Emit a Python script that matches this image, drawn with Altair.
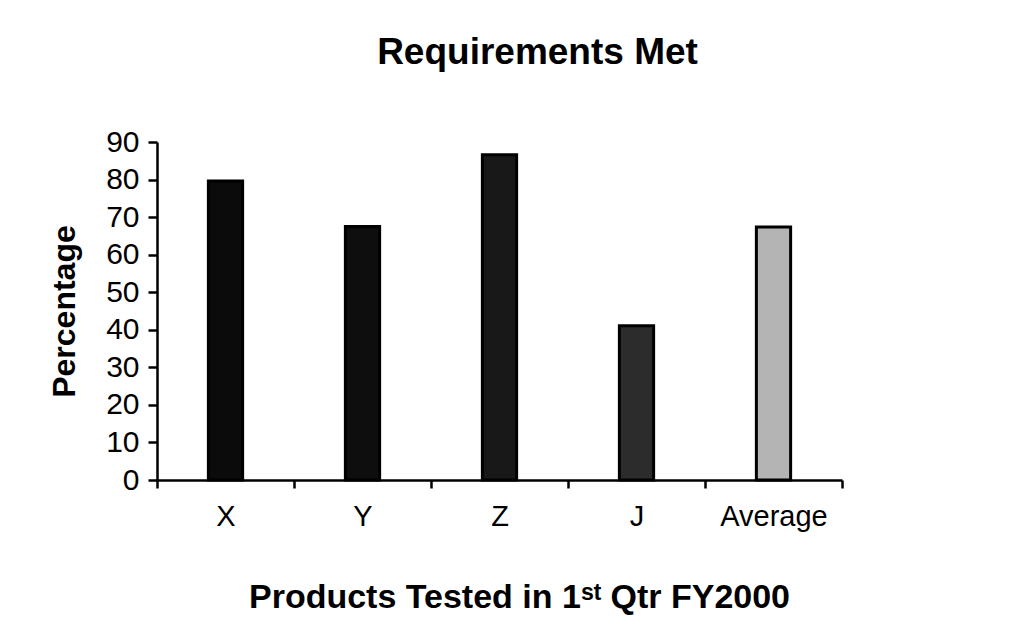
import altair as alt
import pandas as pd

categories = ["X", "Y", "Z", "J", "Average"]
values = [79.6, 67.5, 86.6, 41.1, 67.4]
fills = ["#0b0b0b", "#0e0e0e", "#181818", "#2c2c2c", "#b4b4b4"]

df = pd.DataFrame({"product": categories, "pct": values, "fill": fills})

FONT = "Liberation Sans"

chart = (
    alt.Chart(df)
    .mark_bar(stroke="black", strokeWidth=3, width=alt.RelativeBandSize(0.25))
    .encode(
        x=alt.X(
            "product:N",
            sort=categories,
            scale=alt.Scale(paddingInner=0, paddingOuter=0),
            axis=alt.Axis(
                title="Products Tested in 1ˢᵗ Qtr FY2000",
                labelAngle=0,
                labelFontSize=29,
                labelFont=FONT,
                labelColor="black",
                labelPadding=14,
                tickBand="extent",
                tickSize=8,
                tickWidth=2.5,
                tickColor="black",
                domainColor="black",
                domainWidth=2.5,
                titleFont=FONT,
                titleFontSize=34,
                titleFontWeight="bold",
                titleColor="black",
                titlePadding=49,
                titleX=362,
            ),
        ),
        y=alt.Y(
            "pct:Q",
            scale=alt.Scale(domain=[0, 90], nice=False),
            axis=alt.Axis(
                title="Percentage",
                values=[0, 10, 20, 30, 40, 50, 60, 70, 80, 90],
                grid=False,
                labelFontSize=30,
                labelFont=FONT,
                labelColor="black",
                labelPadding=9,
                tickSize=9,
                tickWidth=2.5,
                tickColor="black",
                domainColor="black",
                domainWidth=2.5,
                titleFont=FONT,
                titleFontSize=32,
                titleFontWeight="bold",
                titleColor="black",
                titlePadding=24,
            ),
        ),
        fill=alt.Fill("fill:N", scale=None),
    )
    .properties(
        width=685,
        height=338,
        title=alt.TitleParams(
            "Requirements Met",
            font=FONT,
            fontSize=37,
            fontWeight="bold",
            color="black",
            anchor="middle",
            dx=38,
            offset=55,
        ),
        padding={"left": 149, "top": 134, "right": 150, "bottom": 140},
        autosize=alt.AutoSizeParams(type="none"),
        background="white",
    )
    .configure_view(stroke=None)
)

chart.save("out.html", embed_options={"renderer": "svg", "actions": False})
